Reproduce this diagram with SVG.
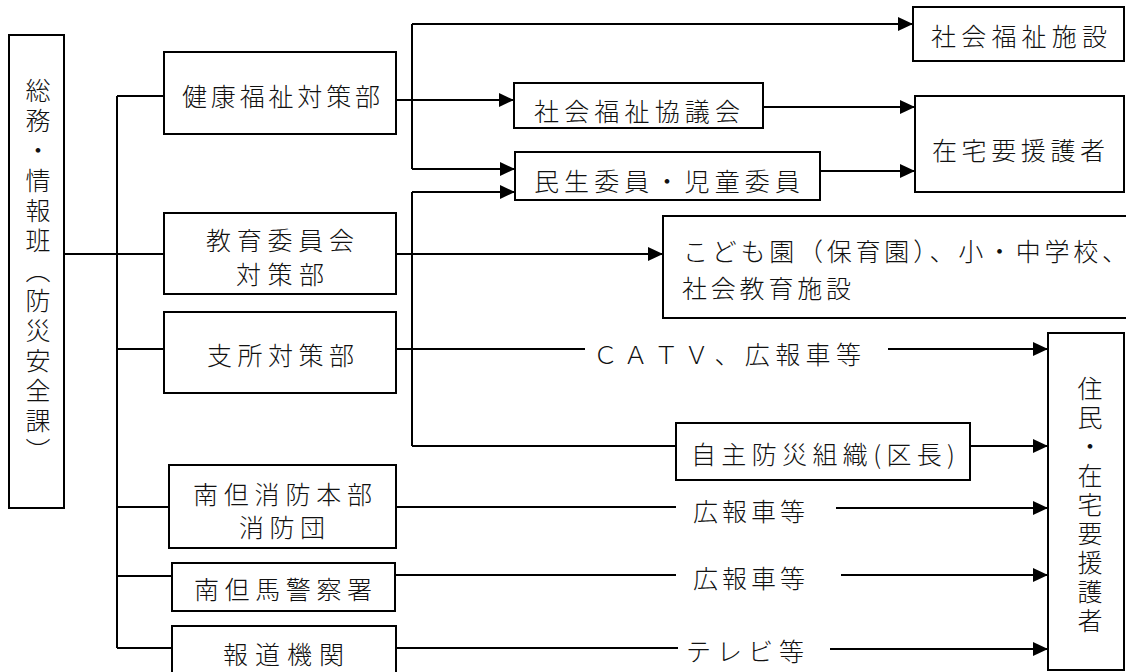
<svg xmlns="http://www.w3.org/2000/svg" width="1126" height="672" viewBox="0 0 1126 672">
<style>
  .box { fill: #fff; stroke: #000; stroke-width: 2; }
  .ln { fill: none; stroke: #000; stroke-width: 2; }
  .arr { marker-end: url(#ah); }
  text { font-family: "Noto Sans CJK JP", "Noto Sans", sans-serif; font-size: 25px; font-weight: 300; fill: #111; dominant-baseline: central; }
  .v { writing-mode: vertical-rl; }
</style>
<defs>
  <marker id="ah" markerUnits="userSpaceOnUse" markerWidth="16" markerHeight="16" refX="15" refY="7" orient="auto">
    <path d="M0,0 L15,7 L0,14 z" fill="#000"/>
  </marker>
</defs>
<rect width="1126" height="672" fill="#fff"/>

<g id="connectors">
  <path class="ln" d="M64,254 H164"/>
  <path class="ln" d="M117,96 V648"/>
  <path class="ln" d="M117,96 H164"/>
  <path class="ln" d="M117,349 H164"/>
  <path class="ln" d="M117,507 H169"/>
  <path class="ln" d="M117,576 H172"/>
  <path class="ln" d="M117,648 H172"/>
  <path class="ln arr" d="M396,100 H514"/>
  <path class="ln" d="M412,169 V24"/>
  <path class="ln arr" d="M412,24 H913"/>
  <path class="ln arr" d="M412,169 H515"/>
  <path class="ln arr" d="M763,107 H915"/>
  <path class="ln arr" d="M820,171 H915"/>
  <path class="ln arr" d="M396,254 H663"/>
  <path class="ln" d="M396,349 H585"/>
  <path class="ln arr" d="M888,349 H1048"/>
  <path class="ln" d="M412,446 V192"/>
  <path class="ln arr" d="M412,192 H515"/>
  <path class="ln" d="M412,446 H676"/>
  <path class="ln arr" d="M970,446 H1048"/>
  <path class="ln" d="M396,507 H676"/>
  <path class="ln arr" d="M836,508 H1048"/>
  <path class="ln" d="M395,575 H676"/>
  <path class="ln arr" d="M841,575 H1048"/>
  <path class="ln" d="M396,648 H678"/>
  <path class="ln arr" d="M830,649 H1048"/>
</g>

<g id="labels">
  <text x="593" y="353" textLength="268" lengthAdjust="spacing">ＣＡＴＶ、広報車等</text>
  <text x="693" y="510" textLength="112" lengthAdjust="spacing">広報車等</text>
  <text x="693" y="577" textLength="112" lengthAdjust="spacing">広報車等</text>
  <text x="686" y="650" textLength="118" lengthAdjust="spacing">テレビ等</text>
</g>

<g id="n-soumu">
  <rect class="box" x="9" y="35" width="55" height="473"/>
  <text class="v" x="38" y="78" letter-spacing="5">総務・情報班（防災安全課）</text>
</g>
<g id="n-kenkou">
  <rect class="box" x="164" y="52" width="232" height="82"/>
  <text x="182" y="95" textLength="198" lengthAdjust="spacing">健康福祉対策部</text>
</g>
<g id="n-kyouiku">
  <rect class="box" x="164" y="213" width="232" height="81"/>
  <text x="206" y="239" textLength="148" lengthAdjust="spacing">教育委員会</text>
  <text x="236" y="273" textLength="88" lengthAdjust="spacing">対策部</text>
</g>
<g id="n-shisho">
  <rect class="box" x="164" y="312" width="232" height="81"/>
  <text x="207" y="354" textLength="147" lengthAdjust="spacing">支所対策部</text>
</g>
<g id="n-shobo">
  <rect class="box" x="169" y="465" width="227" height="83"/>
  <text x="193" y="493" textLength="179" lengthAdjust="spacing">南但消防本部</text>
  <text x="239" y="526" textLength="86" lengthAdjust="spacing">消防団</text>
</g>
<g id="n-keisatsu">
  <rect class="box" x="172" y="563" width="223" height="48"/>
  <text x="194" y="588" textLength="178" lengthAdjust="spacing">南但馬警察署</text>
</g>
<g id="n-houdou">
  <rect class="box" x="172" y="626" width="224" height="56"/>
  <text x="223" y="653" textLength="121" lengthAdjust="spacing">報道機関</text>
</g>
<g id="n-fukushishisetsu">
  <rect class="box" x="913" y="7" width="211" height="54"/>
  <text x="931" y="35" textLength="176" lengthAdjust="spacing">社会福祉施設</text>
</g>
<g id="n-shakyo">
  <rect class="box" x="514" y="83" width="249" height="45"/>
  <text x="534" y="110" textLength="206" lengthAdjust="spacing">社会福祉協議会</text>
</g>
<g id="n-minsei">
  <rect class="box" x="515" y="152" width="305" height="48"/>
  <text x="534" y="180" textLength="266" lengthAdjust="spacing">民生委員・児童委員</text>
</g>
<g id="n-zaitaku">
  <rect class="box" x="915" y="96" width="209" height="96"/>
  <text x="932" y="149" textLength="173" lengthAdjust="spacing">在宅要援護者</text>
</g>
<g id="n-kodomoen">
  <rect class="box" x="663" y="216" width="480" height="102"/>
  <text x="683" y="250" textLength="444" lengthAdjust="spacing">こども園（保育園）、小・中学校、</text>
  <text x="682" y="287" textLength="169" lengthAdjust="spacing">社会教育施設</text>
</g>
<g id="n-jishubousai">
  <rect class="box" x="676" y="423" width="294" height="57"/>
  <text x="691" y="453" textLength="264" lengthAdjust="spacing">自主防災組織(区長)</text>
</g>
<g id="n-jumin">
  <rect class="box" x="1048" y="333" width="76" height="337"/>
  <text class="v" x="1090" y="376" letter-spacing="4">住民・在宅要援護者</text>
</g>
</svg>
